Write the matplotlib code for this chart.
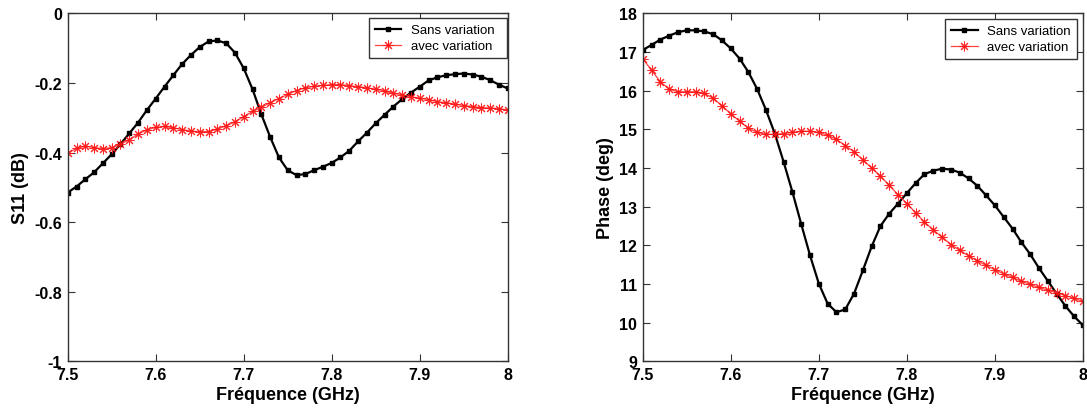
import numpy as np
import matplotlib
matplotlib.use("Agg")
import matplotlib.pyplot as plt

freq = [7.50, 7.51, 7.52, 7.53, 7.54, 7.55, 7.56, 7.57, 7.58, 7.59,
        7.60, 7.61, 7.62, 7.63, 7.64, 7.65, 7.66, 7.67, 7.68, 7.69,
        7.70, 7.71, 7.72, 7.73, 7.74, 7.75, 7.76, 7.77, 7.78, 7.79,
        7.80, 7.81, 7.82, 7.83, 7.84, 7.85, 7.86, 7.87, 7.88, 7.89,
        7.90, 7.91, 7.92, 7.93, 7.94, 7.95, 7.96, 7.97, 7.98, 7.99, 8.00]

s11_sans = [-0.515, -0.498, -0.477, -0.457, -0.431, -0.405, -0.376, -0.345, -0.314, -0.278,
            -0.245, -0.211, -0.178, -0.146, -0.120, -0.097, -0.081, -0.078, -0.086, -0.113,
            -0.158, -0.218, -0.290, -0.355, -0.414, -0.451, -0.465, -0.462, -0.451, -0.441,
            -0.430, -0.414, -0.395, -0.368, -0.343, -0.316, -0.292, -0.268, -0.247, -0.228,
            -0.211, -0.193, -0.184, -0.178, -0.175, -0.173, -0.176, -0.182, -0.192, -0.205, -0.216]

s11_avec = [-0.402, -0.388, -0.382, -0.386, -0.389, -0.386, -0.376, -0.363, -0.347, -0.335,
            -0.328, -0.325, -0.329, -0.334, -0.339, -0.340, -0.340, -0.333, -0.323, -0.312,
            -0.297, -0.282, -0.270, -0.257, -0.245, -0.233, -0.222, -0.214, -0.210, -0.207,
            -0.205, -0.205, -0.208, -0.211, -0.214, -0.218, -0.223, -0.230, -0.234, -0.240,
            -0.244, -0.248, -0.254, -0.257, -0.261, -0.265, -0.268, -0.271, -0.272, -0.274, -0.278]

phase_sans = [17.05, 17.18, 17.32, 17.42, 17.51, 17.56, 17.56, 17.53, 17.46, 17.30,
              17.09, 16.83, 16.48, 16.04, 15.50, 14.89, 14.16, 13.38, 12.55, 11.74,
              11.01, 10.49, 10.27, 10.34, 10.75, 11.35, 11.97, 12.50, 12.82, 13.08,
              13.35, 13.61, 13.84, 13.93, 13.98, 13.96, 13.88, 13.73, 13.54, 13.29,
              13.03, 12.73, 12.43, 12.08, 11.77, 11.41, 11.08, 10.75, 10.43, 10.16, 9.93]

phase_avec = [16.83, 16.53, 16.23, 16.04, 15.97, 15.97, 15.97, 15.93, 15.80, 15.61,
              15.40, 15.21, 15.03, 14.92, 14.87, 14.87, 14.89, 14.92, 14.95, 14.95,
              14.92, 14.85, 14.74, 14.58, 14.42, 14.21, 14.00, 13.79, 13.55, 13.31,
              13.08, 12.84, 12.60, 12.40, 12.21, 12.02, 11.87, 11.73, 11.60, 11.48,
              11.37, 11.26, 11.17, 11.07, 10.99, 10.91, 10.84, 10.77, 10.70, 10.63, 10.55]

xticks = [7.5, 7.6, 7.7, 7.8, 7.9, 8.0]
xticklabels = ["7.5", "7.6", "7.7", "7.8", "7.9", "8"]
s11_ticks = [0, -0.2, -0.4, -0.6, -0.8, -1]
s11_ticklabels = ["0", "-0.2", "-0.4", "-0.6", "-0.8", "-1"]
phase_ticks = [9, 10, 11, 12, 13, 14, 15, 16, 17, 18]
labels = ["Sans variation", "avec variation"]

plt.rcParams['font.family'] = ['Liberation Sans', 'DejaVu Sans']

W, H = 1087, 410
fig = plt.figure(figsize=(W / 100, H / 100), dpi=100)

def axrect(x0, y0, x1, y1):
    return [x0 / W, 1 - y1 / H, (x1 - x0) / W, (y1 - y0) / H]

ax1 = fig.add_axes(axrect(67.7, 14.3, 507.7, 362.3))
ax2 = fig.add_axes(axrect(642.7, 14.3, 1083, 362.3))

ASTERISK = (8, 2, 0)

def style(ax):
    for sp in ax.spines.values():
        sp.set_color("#333333")
        sp.set_linewidth(1.0)
    ax.tick_params(direction="in", top=True, right=True, length=5, width=0.8,
                   color="#333333", labelsize=11.5, pad=4)
    for lab in ax.get_xticklabels() + ax.get_yticklabels():
        lab.set_fontweight("bold")
    ax.set_xlabel("Fréquence (GHz)", fontsize=13, fontweight="bold", labelpad=3)

def plot_pair(ax, y1, y2, legbox):
    ax.plot(freq, y1, color="black", lw=1.6, marker="s", ms=3.2, mfc="black",
            mec="black", label=labels[0])
    ax.plot(freq, y2, color="#ff3030", lw=0.9, marker=ASTERISK, ms=7,
            mec="#ff1010", mew=0.75, alpha=0.9, label=labels[1])
    ax.set_xlim(7.5, 8.0)
    ax.set_xticks(xticks)
    ax.set_xticklabels(xticklabels)
    leg = ax.legend(loc="upper left", bbox_to_anchor=legbox, mode="expand",
                    fontsize=9.5, frameon=True, fancybox=False,
                    edgecolor="#333333", framealpha=1, borderpad=0.45,
                    handlelength=2.0, handletextpad=0.7, labelspacing=0.3,
                    borderaxespad=0.0)
    leg.get_frame().set_linewidth(1.0)

plot_pair(ax1, s11_sans, s11_avec, (0.685, 0.0, 0.314, 0.9865))
ax1.set_ylim(-1, 0)
ax1.set_yticks(s11_ticks)
ax1.set_yticklabels(s11_ticklabels)
ax1.set_ylabel("S11 (dB)", fontsize=13, fontweight="bold", labelpad=4)
style(ax1)

plot_pair(ax2, phase_sans, phase_avec, (0.687, 0.0, 0.300, 0.9836))
ax2.set_ylim(9, 18)
ax2.set_yticks(phase_ticks)
ax2.set_ylabel("Phase (deg)", fontsize=13, fontweight="bold", labelpad=4)
style(ax2)

fig.savefig("out.png", dpi=100)
